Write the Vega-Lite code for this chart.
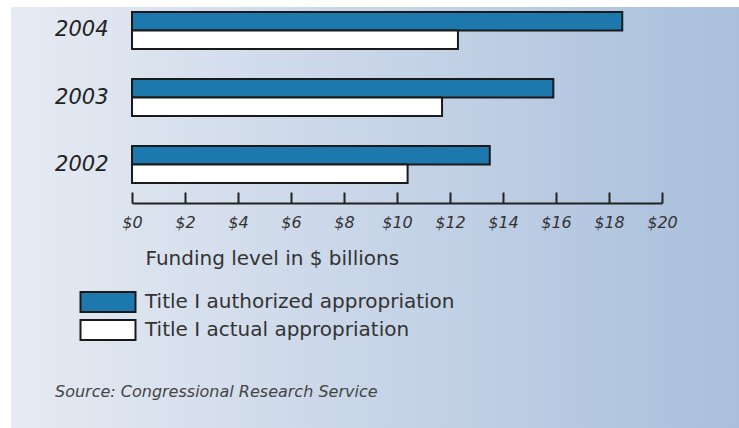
{
  "$schema": "https://vega.github.io/schema/vega-lite/v6.json",
  "width": 728,
  "height": 421,
  "padding": {"left": 11, "top": 7, "right": 0, "bottom": 0},
  "autosize": {"type": "none"},
  "background": "#ffffff",
  "title": {
    "text": "Source: Congressional Research Service",
    "orient": "bottom",
    "anchor": "start",
    "frame": "group",
    "offset": -36,
    "dx": 44,
    "baseline": "middle",
    "font": "DejaVu Sans",
    "fontStyle": "italic",
    "fontWeight": "normal",
    "fontSize": 16,
    "color": "#444444"
  },
  "config": {
    "view": {
      "stroke": null,
      "fill": {
        "gradient": "linear",
        "x1": 0, "y1": 0, "x2": 1, "y2": 0,
        "stops": [
          {"offset": 0, "color": "#e6ebf3"},
          {"offset": 1, "color": "#a9bfdc"}
        ]
      }
    }
  },
  "data": {
    "values": [
      {"year": "2004", "series": "Title I authorized appropriation", "value": 18.5},
      {"year": "2004", "series": "Title I actual appropriation", "value": 12.3},
      {"year": "2003", "series": "Title I authorized appropriation", "value": 15.9},
      {"year": "2003", "series": "Title I actual appropriation", "value": 11.7},
      {"year": "2002", "series": "Title I authorized appropriation", "value": 13.5},
      {"year": "2002", "series": "Title I actual appropriation", "value": 10.4}
    ]
  },
  "mark": {"type": "bar", "stroke": "#1a1a1a", "strokeWidth": 2},
  "encoding": {
    "y": {
      "field": "year",
      "type": "ordinal",
      "sort": ["2004", "2003", "2002"],
      "scale": {"range": [5, 176], "paddingInner": 0.448, "paddingOuter": 0},
      "axis": {
        "title": null,
        "orient": "left",
        "offset": -97,
        "domain": false,
        "ticks": false,
        "labelPadding": 0,
        "labelFont": "DejaVu Sans",
        "labelFontStyle": "italic",
        "labelFontSize": 21,
        "labelColor": "#222222"
      }
    },
    "yOffset": {
      "field": "series",
      "sort": ["Title I authorized appropriation", "Title I actual appropriation"],
      "scale": {"paddingInner": 0, "paddingOuter": 0}
    },
    "x": {
      "field": "value",
      "type": "quantitative",
      "scale": {"domain": [0, 20], "range": [121, 651], "nice": false},
      "axis": {
        "orient": "bottom",
        "offset": -225,
        "values": [0, 2, 4, 6, 8, 10, 12, 14, 16, 18, 20],
        "labelExpr": "'$' + datum.value",
        "labelFlush": false,
        "labelOverlap": false,
        "grid": false,
        "tickSize": -11,
        "tickWidth": 2,
        "tickColor": "#222222",
        "domainWidth": 2,
        "domainColor": "#222222",
        "labelPadding": 22,
        "labelBaseline": "top",
        "labelFont": "DejaVu Sans",
        "labelFontStyle": "italic",
        "labelFontSize": 16,
        "labelColor": "#333333",
        "title": "Funding level in $ billions",
        "titleAnchor": "start",
        "titleAlign": "left",
        "titleX": 134,
        "titleY": 55,
        "titleBaseline": "middle",
        "titleFont": "DejaVu Sans",
        "titleFontWeight": "normal",
        "titleFontSize": 20,
        "titleColor": "#333333"
      }
    },
    "fill": {
      "field": "series",
      "type": "nominal",
      "sort": ["Title I authorized appropriation", "Title I actual appropriation"],
      "scale": {"range": ["#1c78ad", "#ffffff"]},
      "legend": {
        "title": null,
        "orient": "none",
        "legendX": 86,
        "legendY": 284,
        "padding": 0,
        "symbolType": "M-2.75,-1H2.75V1H-2.75Z",
        "symbolSize": 400,
        "symbolStrokeColor": "#1a1a1a",
        "symbolStrokeWidth": 2,
        "symbolOpacity": 1,
        "labelFont": "DejaVu Sans",
        "labelFontSize": 20,
        "labelColor": "#333333",
        "labelOffset": 26,
        "rowPadding": 0,
        "labelLimit": 500
      }
    }
  }
}
